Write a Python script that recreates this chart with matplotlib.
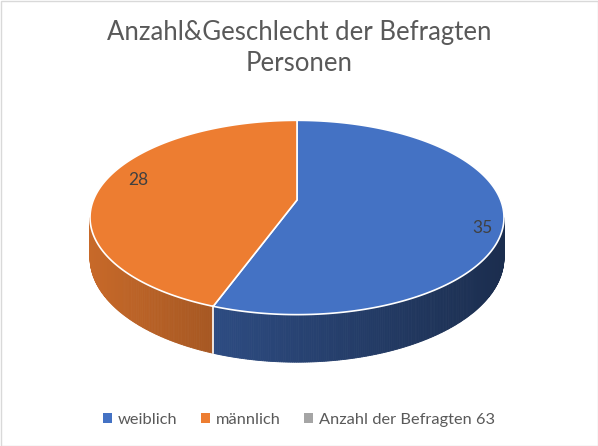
import numpy as np
import matplotlib.pyplot as plt
from matplotlib.patches import Polygon, Rectangle, Patch

plt.rcParams['font.family'] = ['Lato', 'DejaVu Sans']

title = 'Anzahl&Geschlecht der Befragten\nPersonen'
labels = ['weiblich', 'männlich', 'Anzahl der Befragten 63']
values = [35, 28, 0]
colors = ['#4472c4', '#ed7d31', '#a5a5a5']

# layout of the tilted pie (pixel space, simple perspective)
cx, cy = 297, 200
rx, ry = 203.6, 94
k = 0.18
depth = 39
# side shading: (factor at left, factor at right) of the visible wall
shade = [(0.66, 0.40), (0.84, 0.70), (0.6, 0.6)]
lab_nudge = [(10, 14), (7, -6), (0, 0)]

fig = plt.figure(figsize=(5.98, 4.46), dpi=100)
ax = fig.add_axes([0, 0, 1, 1])
ax.set_xlim(0, 598)
ax.set_ylim(446, 0)
ax.axis('off')

ax.add_patch(Rectangle((0.5, 0.5), 597, 445, fill=False, edgecolor='#d9d9d9', lw=1))


def pt(th, f=1.0, dz=0.0):
    t = np.radians(th)
    den = 1 + k * f * np.cos(t)
    return cx + rx * f * np.sin(t) / den, cy + (dz - ry * f * np.cos(t)) / den


def rgb(c, f):
    c = c.lstrip('#')
    r, g, b = (int(c[i:i + 2], 16) / 255 for i in (0, 2, 4))
    return (r * f, g * f, b * f)


total = sum(values)
starts = np.concatenate([[0], np.cumsum(values)[:-1]]) / total * 360
ends = np.cumsum(values) / total * 360

# visible wall range (silhouette where cos = -k)
lo = np.degrees(np.arccos(-k))
hi = 360 - lo

for s, e, col, (fl, fr) in zip(starts, ends, colors, shade):
    a, b = max(s, lo), min(e, hi)
    if b <= a:
        continue
    xs = [pt(a)[0], pt(b)[0]]
    xmin, xmax = min(xs), max(xs)
    ths = np.linspace(a, b, int((b - a) * 2) + 2)
    for t1, t2 in zip(ths[:-1], ths[1:]):
        x1, y1 = pt(t1)
        x2, y2 = pt(t2)
        x3, y3 = pt(t2, dz=depth)
        x4, y4 = pt(t1, dz=depth)
        fr_ = ((x1 + x2) / 2 - xmin) / max(xmax - xmin, 1)
        c = rgb(col, fl + (fr - fl) * fr_)
        ax.add_patch(Polygon([(x1, y1), (x2, y2), (x3, y3), (x4, y4)],
                             closed=True, facecolor=c, edgecolor=c, lw=0.6))

# white seam on the wall at slice boundaries
for s in starts[1:]:
    if lo < s < hi:
        x1, y1 = pt(s)
        x2, y2 = pt(s, dz=depth)
        ax.plot([x1, x2], [y1, y2], color='white', lw=1.2)

# top faces
for s, e, col in zip(starts, ends, colors):
    if e - s <= 0:
        continue
    ths = np.linspace(s, e, int(e - s) * 2 + 2)
    poly = [(cx, cy)] + [pt(t) for t in ths]
    ax.add_patch(Polygon(poly, closed=True, facecolor=col, edgecolor='white', lw=1.2,
                         joinstyle='round'))

# data labels
for s, e, v, (dx, dy) in zip(starts, ends, values, lab_nudge):
    if v == 0:
        continue
    x, y = pt((s + e) / 2, f=0.85)
    ax.text(x + dx, y + dy, str(v), ha='center', va='center', fontsize=12.5, color='#404040')

fig.text(0.5, 0.893, title, ha='center', va='center', fontsize=18.5, color='#595959',
         linespacing=1.3)

handles = [Patch(facecolor=c, edgecolor='none') for c in colors]
fig.legend(handles, labels, loc='center', bbox_to_anchor=(0.5, 0.058), ncol=3,
           frameon=False, fontsize=11.8, labelcolor='#595959', handlelength=0.55,
           handleheight=0.55, handletextpad=0.35, columnspacing=1.45)

fig.savefig('out.png', dpi=100)
